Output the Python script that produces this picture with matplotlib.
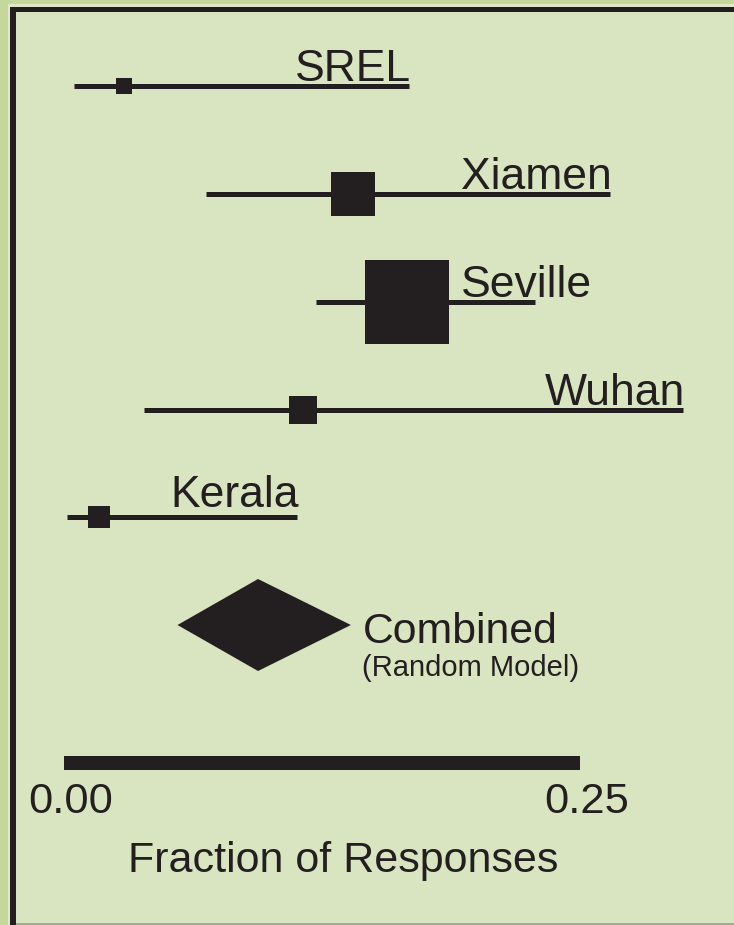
import matplotlib
matplotlib.use('Agg')
import matplotlib.pyplot as plt
from matplotlib.patches import Polygon, Rectangle
import numpy as np

# ---------------- data ----------------
studies = ['SREL', 'Xiamen', 'Seville', 'Wuhan', 'Kerala']
estimates = [0.029, 0.140, 0.166, 0.116, 0.017]
ci_low = [0.005, 0.069, 0.122, 0.039, 0.0015]
ci_high = [0.167, 0.2645, 0.228, 0.300, 0.113]
weights = [2.7, 17.5, 68.2, 7.4, 4.2]

combined_label = 'Combined'
combined_sub = '(Random Model)'
combined_est = 0.094
combined_low = 0.055
combined_high = 0.139

axis_ticks = [0.00, 0.25]
axis_ticklabels = ['0.00', '0.25']
axis_title = 'Fraction of Responses'

# ---------------- style ----------------
W, H, DPI = 734, 925, 100
DARK = '#231f20'
INNER = '#d9e4c0'
OUTER = '#c5d89c'
STRIP = '#dfe8ca'
FONT = 'Liberation Sans'
PX = 72.0 / DPI  # points per pixel

plt.rcParams['font.family'] = [FONT, 'DejaVu Sans']

fig = plt.figure(figsize=(W / DPI, H / DPI), dpi=DPI)
fig.patch.set_facecolor(OUTER)


def frect(x0, y0, x1, y1, color, z=-5):
    # pixel box (from top-left) -> figure fraction
    r = Rectangle((x0 / W, 1 - y1 / H), (x1 - x0) / W, (y1 - y0) / H,
                  transform=fig.transFigure, facecolor=color,
                  edgecolor='none', zorder=z)
    fig.add_artist(r)


frect(8, 4, W, H, STRIP, -9)
frect(10, 7, W, H, DARK, -8)
frect(16, 12, W, H, INNER, -7)
frect(16, H - 2, W, H, '#a3ad92', -6)

ax = fig.add_axes([0, 0, 1, 1])
ax.set_facecolor('none')
ax.axis('off')
ax.set_zorder(2)

# scale: 2064 px per unit, 0 at x=64 px; rows 107.7 px apart, first at 86.5 px
ux = 2064.0
ax.set_xlim(-64 / ux, (W - 64) / ux)
ry = 107.7
ax.set_ylim((H - 86.5) / ry, -86.5 / ry)

lw_ci = 5 * PX
k = 10.29  # px per sqrt(weight)

for i, (name, est, lo, hi, w) in enumerate(zip(studies, estimates, ci_low, ci_high, weights)):
    ax.plot([lo, hi], [i, i], color=DARK, lw=lw_ci, solid_capstyle='butt', zorder=3)
    side = k * np.sqrt(w) * PX
    ax.plot([est], [i], marker='s', ms=side, color=DARK, mec=DARK, mew=0, zorder=4)
    if name == 'Seville':
        ax.annotate(name, xy=(est, i), xytext=(side / 2 + 12 * PX, 5 * PX),
                    textcoords='offset points', ha='left', va='baseline',
                    fontsize=32, color=DARK)
    else:
        dy = 10 if name == 'Kerala' else 5
        ax.annotate(name, xy=(hi, i), xytext=(2 * PX, dy * PX),
                    textcoords='offset points', ha='right', va='baseline',
                    fontsize=32, color=DARK)

# combined diamond
yc = len(studies)
half_h = 46 / ry
diamond = Polygon([[combined_low, yc], [combined_est, yc - half_h],
                   [combined_high, yc], [combined_est, yc + half_h]],
                  closed=True, facecolor=DARK, edgecolor='none', zorder=4)
ax.add_patch(diamond)
ax.annotate(combined_label, xy=(combined_high, yc), xytext=(12 * PX, -18 * PX),
            textcoords='offset points', ha='left', va='baseline',
            fontsize=30.8, color=DARK)
ax.annotate(combined_sub, xy=(combined_high, yc), xytext=(11 * PX, -51 * PX),
            textcoords='offset points', ha='left', va='baseline',
            fontsize=21, color=DARK)

# axis bar
ya = (763 - 86.5) / ry
ax.plot([axis_ticks[0], axis_ticks[-1]], [ya, ya], color=DARK, lw=14 * PX,
        solid_capstyle='butt', zorder=3)
for t, lab in zip(axis_ticks, axis_ticklabels):
    ax.annotate(lab, xy=(t, ya), xytext=(7 * PX, -50 * PX),
                textcoords='offset points', ha='center', va='baseline',
                fontsize=31.3, color=DARK)
ax.annotate(axis_title, xy=(np.mean(axis_ticks), ya), xytext=(21 * PX, -109 * PX),
            textcoords='offset points', ha='center', va='baseline',
            fontsize=31, color=DARK)

fig.savefig('out.png', dpi=DPI, facecolor=fig.get_facecolor())
